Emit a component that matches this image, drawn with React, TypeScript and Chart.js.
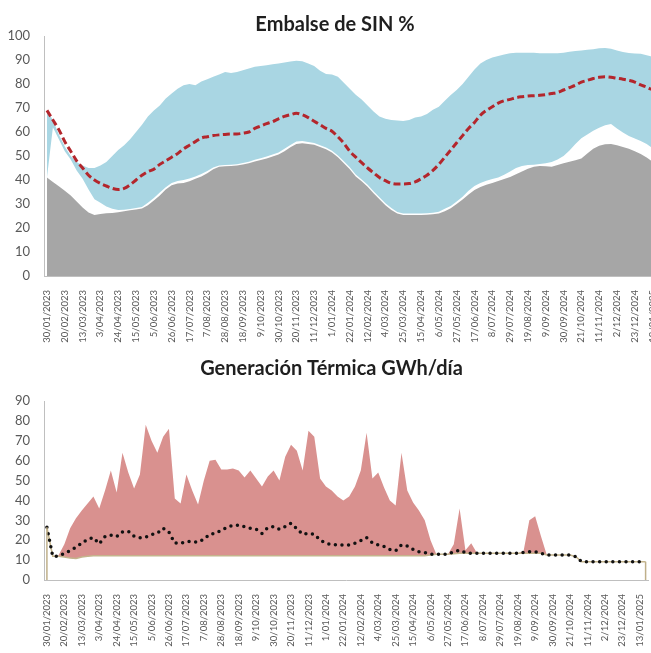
import React, { useEffect, useRef } from 'react';
import { Chart, registerables } from 'chart.js';

Chart.register(...registerables);

// Tick labels shown every 3 weeks
const tickLabels = [
  '30/01/2023', '20/02/2023', '13/03/2023', '3/04/2023', '24/04/2023', '15/05/2023', '5/06/2023',
  '26/06/2023', '17/07/2023', '7/08/2023', '28/08/2023', '18/09/2023', '9/10/2023', '30/10/2023',
  '20/11/2023', '11/12/2023', '1/01/2024', '22/01/2024', '12/02/2024', '4/03/2024', '25/03/2024',
  '15/04/2024', '6/05/2024', '27/05/2024', '17/06/2024', '8/07/2024', '29/07/2024', '19/08/2024',
  '9/09/2024', '30/09/2024', '21/10/2024', '11/11/2024', '2/12/2024', '23/12/2024', '13/01/2025',
];

// ---- Embalse de SIN % (weekly) ----
const embalseRef = [
  69, 65, 61, 56, 52, 48, 45, 42, 40, 38.6,
  37.5, 36.5, 36, 36.5, 38, 40, 42, 43.5, 44.5, 46.5,
  48, 49.5, 51, 53, 54.5, 56, 57.5, 58, 58.5, 58.8,
  59, 59.2, 59.2, 59.5, 60, 61.5, 62.5, 63.5, 64.3, 65.5,
  66.5, 67.2, 67.8, 67.2, 66, 64.5, 63, 61.5, 60.3, 58,
  55.3, 52, 49.5, 47.2, 45, 43, 41, 39.7, 38.6, 38.3,
  38.3, 38.5, 39.2, 40.5, 42, 44, 46.5, 49.5, 52.5, 55.5,
  58.5, 61.5, 64, 67, 69, 70.5, 72, 73, 73.6, 74.3,
  74.7, 75, 75.1, 75.3, 75.6, 76, 76.5, 77.5, 78.5, 79.5,
  80.8, 81.5, 82.3, 82.8, 83, 82.8, 82.4, 82, 81.5, 80.8,
  79.6, 78.7, 77.5,
];
const embalseMax = [
  69, 65, 59, 54, 50, 47.5, 46, 45, 45, 46,
  47.5, 50, 52.5, 54.5, 57, 60, 63, 66.5, 69, 71,
  74, 76, 78, 79.5, 80, 79.5, 81, 82, 83, 84,
  85, 84.6, 85, 85.7, 86.5, 87.2, 87.5, 87.8, 88.2, 88.5,
  89, 89.4, 89.7, 89.5, 88.5, 87.5, 85.5, 84.2, 84, 83,
  80.5, 78, 75.5, 73.5, 71, 68.5, 66.5, 65.5, 65, 64.8,
  64.6, 65, 66, 66.5, 67.5, 69.3, 70.5, 73, 75.4, 77.5,
  80, 83, 86, 88.5, 90, 91, 91.7, 92.3, 92.8, 93,
  93, 93, 93, 92.8, 92.8, 92.8, 92.8, 93, 93.4, 93.7,
  94, 94.3, 94.5, 94.9, 95, 94.7, 94, 93.3, 92.9, 92.7,
  92.6, 92, 91.4,
];
const embalseMin = [
  41, 62, 57, 52, 48.5, 44, 40.5, 36, 32, 30.5,
  29, 28, 27.5, 27.6, 27.9, 28.3, 28.8, 30.5, 32.5, 34.8,
  37, 38.8, 39.6, 40, 40.6, 41.5, 42.5, 43.8, 45.2, 46,
  46.3, 46.4, 46.6, 47.1, 47.6, 48.4, 49.1, 49.8, 50.6, 51.5,
  53, 54.6, 56, 56.2, 55.8, 55.4, 54.5, 53.5, 52.2, 50.2,
  47.8, 45.3, 42.3, 40.2, 38, 35.3, 32.8, 30.3, 28.3, 26.7,
  26, 26, 26, 26, 26.1, 26.4, 26.8, 28, 29.2, 31,
  33, 35.5, 37.5, 38.8, 39.7, 40.4, 41, 42.2, 43.5, 45,
  45.8, 46.2, 46.4, 46.7, 47, 47.5, 48.5, 50, 52.3, 55,
  57.4, 59, 60.5, 61.8, 62.8, 63.3, 61.5, 59.8, 58.3, 57.3,
  56.2, 55, 53.2,
];
const embalseActual = [
  41, 39.2, 37.4, 35.5, 33.5, 31, 28.5, 26.5, 25.4, 25.8,
  26.1, 26.3, 26.6, 27, 27.4, 27.7, 28.1, 29.5, 31.5, 33.5,
  36, 37.8, 38.5, 38.8, 39.5, 40.5, 41.5, 42.8, 44.5, 45.5,
  45.7, 45.8, 46, 46.5, 47, 47.7, 48.3, 49, 49.8, 50.6,
  52, 53.6, 55, 55.3, 55, 54.7, 53.8, 52.8, 51.5, 49.5,
  47, 44.5, 41.5, 39.5, 37.2, 34.5, 32, 29.5, 27.5, 26,
  25.4, 25.4, 25.4, 25.4, 25.5, 25.7, 26, 27, 28.2, 30,
  31.9, 34, 35.8, 37.1, 38, 38.8, 39.6, 40.4, 41.2, 42.4,
  43.5, 44.7, 45.5, 45.8, 45.7, 45.5, 46.3, 47, 47.6, 48.2,
  49, 51, 53, 54.3, 54.9, 55, 54.5, 53.8, 53, 52,
  50.8, 49.4, 47.6,
];

// ---- Generación Térmica GWh/día (weekly) ----
const termicaMax = [
  26.5, 12, 12.5, 18, 26, 31, 35, 38.5, 42, 36,
  45, 55, 44, 64, 54, 46, 53, 78, 70, 64,
  72, 76, 41, 38.5, 53, 45, 38, 50, 60, 60.5,
  55.5, 55.5, 56, 55, 51.5, 55, 51, 47, 52, 55,
  50, 62, 68, 65, 55, 75, 72, 51, 47, 45,
  42, 40, 42, 47, 55, 74, 51, 54, 46.5, 40,
  37.5, 64, 45, 39, 35, 30, 20, 13, 13, 13,
  18, 36, 15, 18.5, 13.4, 13.4, 13.4, 13.4, 13.4, 13.4,
  13.4, 13.4, 14.5, 30, 32, 22, 12.6, 12.6, 12.6, 12.6,
  12.6, 11.7, 9.2, 9.2, 9.2, 9.2, 9.2, 9.2, 9.2, 9.2,
  9.2, 9.2, 9.2, 9.2,
];
const termicaMin = [
  26.5, 12, 12, 11.6, 11, 10.8, 11.6, 12, 12.2, 12.2,
  12.2, 12.2, 12.2, 12.2, 12.2, 12.2, 12.2, 12.2, 12.2, 12.2,
  12.2, 12.2, 12.2, 12.2, 12.2, 12.2, 12.2, 12.2, 12.2, 12.2,
  12.2, 12.2, 12.2, 12.2, 12.2, 12.2, 12.2, 12.2, 12.2, 12.2,
  12.2, 12.2, 12.2, 12.2, 12.2, 12.2, 12.2, 12.2, 12.2, 12.2,
  12.2, 12.2, 12.2, 12.2, 12.2, 12.2, 12.2, 12.2, 12.2, 12.2,
  12.2, 12.2, 12.2, 12.2, 12.2, 12.2, 12.6, 13, 13, 13,
  13.2, 13.4, 13.4, 13.4, 13.4, 13.4, 13.4, 13.4, 13.4, 13.4,
  13.4, 13.4, 13.4, 13.4, 13.4, 13.4, 12.6, 12.6, 12.6, 12.6,
  12.6, 11.7, 9.2, 9.2, 9.2, 9.2, 9.2, 9.2, 9.2, 9.2,
  9.2, 9.2, 9.2, 9.2,
];
const termicaReal = [
  26.5, 12, 12, 13.3, 14.8, 16.5, 18.5, 20.5, 21.3, 18.2,
  21.8, 22.6, 21.8, 24.2, 24.5, 22, 21.2, 21.5, 22.8, 23.5,
  26, 24, 18.6, 18.4, 19.3, 19.3, 19, 20.5, 23, 23.5,
  25, 26.5, 27.5, 27.6, 26.8, 26, 25.5, 23.4, 26.3, 26.8,
  25.5, 26.8, 28.5, 25.8, 23, 23.5, 23, 20, 18.5, 17.8,
  17.6, 17.6, 17.6, 18.5, 19.8, 21.3, 18.7, 17.6, 16.8, 15.3,
  14.7, 17.6, 17.1, 15.4, 14.2, 13.8, 13, 13, 13, 13,
  14.2, 15, 13.8, 13.4, 13.4, 13.4, 13.4, 13.4, 13.4, 13.4,
  13.4, 13.4, 13.8, 14.2, 14.2, 13.4, 12.6, 12.6, 12.6, 12.6,
  12.6, 11.7, 9.2, 9.2, 9.2, 9.2, 9.2, 9.2, 9.2, 9.2,
  9.2, 9.2, 9.2, 9.2,
];

const weekLabels = (n: number) =>
  Array.from({ length: n }, (_, i) => (i % 3 === 0 ? tickLabels[i / 3] ?? '' : ''));

const FONT = 'Lato, "Open Sans", sans-serif';
const TICK_COLOR = '#595959';

function makeScales(yMax: number, xHeight: number, yPad: number) {
  return {
    x: {
      type: 'category' as const,
      offset: true,
      grid: { display: false },
      border: { display: true, color: '#BFBFBF', width: 1 },
      ticks: {
        autoSkip: false,
        maxRotation: 90,
        minRotation: 90,
        padding: 6,
        color: TICK_COLOR,
        font: { family: FONT, size: 9.5 },
      },
      afterFit: (s: any) => { s.height = xHeight; },
    },
    y: {
      min: 0,
      max: yMax,
      grid: { display: false },
      border: { display: true, color: '#BFBFBF', width: 1 },
      ticks: {
        stepSize: 10,
        padding: yPad,
        color: TICK_COLOR,
        font: { family: FONT, size: 13 },
      },
      afterFit: (s: any) => { s.width = 44; },
    },
  };
}

function EmbalseChart() {
  const ref = useRef<HTMLCanvasElement>(null);
  useEffect(() => {
    if (!ref.current) return;
    const chart = new Chart(ref.current, {
      type: 'line',
      data: {
        labels: weekLabels(embalseRef.length),
        datasets: [
          {
            data: embalseRef,
            borderColor: '#B3262C',
            borderWidth: 3,
            borderDash: [7, 3.5],
            fill: false,
            pointRadius: 0,
            cubicInterpolationMode: 'monotone',
            order: 0,
          },
          {
            data: embalseActual,
            borderColor: 'transparent',
            borderWidth: 0,
            backgroundColor: '#A6A6A6',
            fill: 'origin',
            pointRadius: 0,
            order: 1,
          },
          {
            data: embalseMax,
            borderColor: 'transparent',
            borderWidth: 0,
            backgroundColor: '#A9D6E3',
            fill: '+1',
            pointRadius: 0,
            order: 2,
          },
          {
            data: embalseMin,
            borderColor: 'transparent',
            borderWidth: 0,
            fill: false,
            pointRadius: 0,
            order: 3,
          },
        ],
      },
      options: {
        responsive: false,
        animation: false,
        layout: { padding: 0 },
        plugins: {
          legend: { display: false },
          tooltip: { enabled: false },
          title: {
            display: true,
            text: 'Embalse de SIN %',
            color: '#1F1F1F',
            font: { family: FONT, size: 20, weight: 'bold', lineHeight: 1.1 },
            padding: { top: 14, bottom: 0 },
          },
        },
        scales: makeScales(100, 69, 6) as any,
      },
    });
    return () => chart.destroy();
  }, []);
  return <canvas ref={ref} width={670} height={345} style={{ display: 'block' }} />;
}

const edgeLines = {
  id: 'edgeLines',
  afterDatasetsDraw(chart: any) {
    const x = chart.scales.x;
    const y = chart.scales.y;
    const ctx = chart.ctx;
    ctx.save();
    ctx.strokeStyle = '#BFB08A';
    ctx.lineWidth = 1.5;
    [0, termicaMin.length - 1].forEach((i) => {
      const px = x.getPixelForValue(i);
      ctx.beginPath();
      ctx.moveTo(px, y.getPixelForValue(termicaMin[i]));
      ctx.lineTo(px, y.getPixelForValue(0));
      ctx.stroke();
    });
    ctx.restore();
  },
};

function TermicaChart() {
  const ref = useRef<HTMLCanvasElement>(null);
  useEffect(() => {
    if (!ref.current) return;
    const chart = new Chart(ref.current, {
      type: 'line',
      data: {
        labels: weekLabels(termicaReal.length),
        datasets: [
          {
            data: termicaReal,
            borderColor: '#111111',
            borderWidth: 3.5,
            borderDash: [0, 6.6],
            borderCapStyle: 'round',
            fill: false,
            pointRadius: 0,
            order: 0,
          },
          {
            data: termicaMax,
            borderColor: 'transparent',
            borderWidth: 0,
            backgroundColor: '#D9918F',
            fill: '+1',
            pointRadius: 0,
            order: 2,
          },
          {
            data: termicaMin,
            borderColor: '#C4B48C',
            borderWidth: 1.5,
            fill: false,
            pointRadius: 0,
            order: 1,
          },
        ],
      },
      options: {
        responsive: false,
        animation: false,
        layout: { padding: 0 },
        plugins: {
          legend: { display: false },
          tooltip: { enabled: false },
          title: {
            display: true,
            text: 'Generación Térmica GWh/día',
            color: '#1F1F1F',
            font: { family: FONT, size: 20, weight: 'bold', lineHeight: 1.1 },
            padding: { top: 13, bottom: 21 },
          },
        },
        scales: makeScales(90, 73, 6) as any,
      },
      plugins: [edgeLines],
    });
    return () => chart.destroy();
  }, []);
  return <canvas ref={ref} width={663} height={308} style={{ display: 'block' }} />;
}

export default function App() {
  return (
    <div
      style={{
        position: 'fixed',
        left: 0,
        top: 0,
        width: 651,
        height: 653,
        overflow: 'hidden',
        background: '#ffffff',
      }}
    >
      <div style={{ position: 'absolute', left: 0, top: 0, width: 670, height: 345 }}>
        <EmbalseChart />
      </div>
      <div style={{ position: 'absolute', left: 0, top: 345, width: 663, height: 308 }}>
        <TermicaChart />
      </div>
    </div>
  );
}
